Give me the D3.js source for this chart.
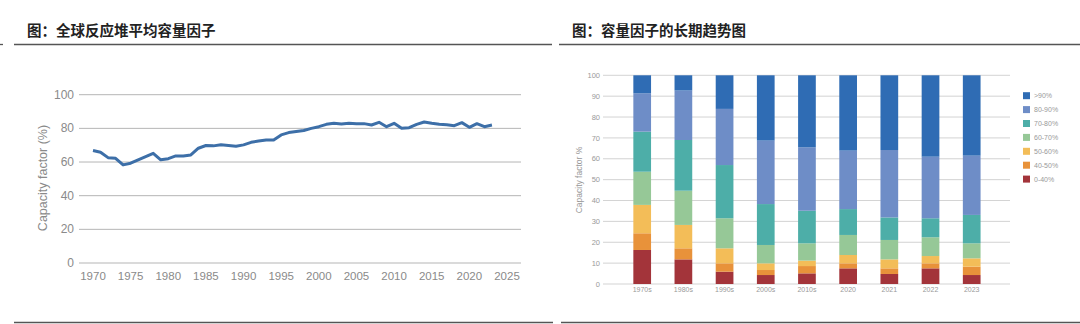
<!DOCTYPE html>
<html><head><meta charset="utf-8">
<script src="https://cdn.jsdelivr.net/npm/d3@7"></script>
<style>body{margin:0;background:#fff;}svg{display:block;}</style>
</head><body>
<svg id="c" width="1080" height="324"></svg>
<script>
// Left chart: global average reactor capacity factor
const years = d3.range(1970, 2024);
const capacityFactor = [66.8,65.8,62.6,62.2,58.3,59.3,61.3,63.2,65.2,61.3,
  62.0,63.6,63.6,64.2,68.2,69.8,69.6,70.2,69.8,69.4,
  70.2,71.7,72.5,73.1,73.1,76.1,77.5,78.1,78.7,80.0,
  81.0,82.4,83.0,82.6,83.0,82.8,82.8,82.0,83.6,81.0,
  83.0,80.0,80.4,82.4,83.8,83.0,82.4,82.2,81.6,83.4,
  80.6,82.8,81.0,82.0];
const leftYTicks = [0,20,40,60,80,100];
const leftXTicks = [1970,1975,1980,1985,1990,1995,2000,2005,2010,2015,2020,2025];

// Right chart: long-term capacity factor distribution (stacked %)
const periods = ["1970s","1980s","1990s","2000s","2010s","2020","2021","2022","2023"];
const bands = ["0-40%","40-50%","50-60%","60-70%","70-80%","80-90%",">90%"];
const band0_40  = [16.3,11.8,5.9,4.3,5.1,7.5,4.8,7.5,4.3];
const band40_50 = [8.0,5.3,4.0,2.4,3.5,2.4,2.7,2.4,4.0];
const band50_60 = [13.6,11.2,7.2,3.2,2.6,4.0,4.3,3.5,4.0];
const band60_70 = [15.9,16.4,14.4,8.8,8.3,9.6,9.3,9.0,7.2];
const band70_80 = [19.2,24.3,25.5,19.6,15.6,12.4,10.8,9.1,13.6];
const band80_90 = [18.4,23.7,26.9,30.4,30.4,28.0,32.3,29.5,28.4];
const band90up  = [8.6,7.3,16.1,31.3,34.5,36.1,35.8,39.0,38.5];
const rightYTicks = d3.range(0, 101, 10);
const bandColors = ["#a3343a","#e8923a","#f3bd58","#96c897","#4daea8","#6e8dc7","#2f6cb4"];

const svg = d3.select("#c");
const sans = "'Liberation Sans', Arial, sans-serif";
const cjk = "'Noto Sans CJK SC', sans-serif";

// Titles and rules
svg.append("text").attr("x", 27).attr("y", 36).attr("font-family", cjk).attr("font-weight", 700)
  .attr("font-size", 14.5).attr("fill", "#222").text("图：全球反应堆平均容量因子");
svg.append("text").attr("x", 572).attr("y", 36).attr("font-family", cjk).attr("font-weight", 700)
  .attr("font-size", 14.5).attr("fill", "#222").text("图：容量因子的长期趋势图");
const rules = [[0,3,44.5],[14,552,44.5],[559,1080,44.5],[14,553,322.5],[561,1080,322.5]];
svg.selectAll("line.rule").data(rules).enter().append("line").attr("class","rule")
  .attr("x1", d => d[0]).attr("x2", d => d[1]).attr("y1", d => d[2]).attr("y2", d => d[2])
  .attr("stroke", "#555").attr("stroke-width", 1.3);

// ---- Left line chart ----
const xL = d3.scaleLinear().domain([1970, 2025]).range([93, 507]);
const yL = d3.scaleLinear().domain([0, 100]).range([263, 94.7]);
const gL = svg.append("g");
gL.selectAll("line.grid").data(leftYTicks).enter().append("line")
  .attr("x1", 79).attr("x2", 521).attr("y1", d => yL(d)).attr("y2", d => yL(d))
  .attr("stroke", "#b5b5b5").attr("stroke-width", 1);
gL.selectAll("text.yt").data(leftYTicks).enter().append("text")
  .attr("x", 74).attr("y", d => yL(d) + 4).attr("text-anchor", "end")
  .attr("font-family", sans).attr("font-size", 12).attr("fill", "#8a8a8a").text(d => d);
gL.selectAll("text.xt").data(leftXTicks).enter().append("text")
  .attr("x", d => xL(d)).attr("y", 280).attr("text-anchor", "middle")
  .attr("font-family", sans).attr("font-size", 11.5).attr("fill", "#8a8a8a").text(d => d);
gL.append("text").attr("transform", "translate(47,178) rotate(-90)").attr("text-anchor", "middle")
  .attr("font-family", sans).attr("font-size", 12.5).attr("fill", "#8a8a8a").text("Capacity factor (%)");
gL.append("path").datum(years.map((y, i) => [y, capacityFactor[i]]))
  .attr("d", d3.line().x(d => xL(d[0])).y(d => yL(d[1])))
  .attr("fill", "none").attr("stroke", "#3d6fa8").attr("stroke-width", 3).attr("stroke-linejoin", "round");

// ---- Right stacked bar chart ----
const series = [band0_40, band40_50, band50_60, band60_70, band70_80, band80_90, band90up];
const rows = periods.map((p, i) => {
  const r = {period: p};
  bands.forEach((b, j) => r[b] = series[j][i]);
  return r;
});
const stack = d3.stack().keys(bands)(rows);
const xR = d3.scaleBand().domain(periods).range([621.6, 992.3]).paddingInner(0.57).paddingOuter(0.285);
const yR = d3.scaleLinear().domain([0, 100]).range([284, 75.3]);
const gR = svg.append("g");
gR.selectAll("line.grid").data(rightYTicks).enter().append("line")
  .attr("x1", 603).attr("x2", 1010).attr("y1", d => yR(d)).attr("y2", d => yR(d))
  .attr("stroke", "#c8c8c8").attr("stroke-width", 0.8);
gR.selectAll("text.yt").data(rightYTicks).enter().append("text")
  .attr("x", 600).attr("y", d => yR(d) + 2.6).attr("text-anchor", "end")
  .attr("font-family", sans).attr("font-size", 7.5).attr("fill", "#999").text(d => d);
gR.append("text").attr("transform", "translate(582,180) rotate(-90)").attr("text-anchor", "middle")
  .attr("font-family", sans).attr("font-size", 8.5).attr("fill", "#999").text("Capacity factor %");
stack.forEach((s, j) => {
  gR.selectAll(null).data(s).enter().append("rect")
    .attr("x", d => xR(d.data.period)).attr("width", xR.bandwidth())
    .attr("y", d => yR(d[1])).attr("height", d => yR(d[0]) - yR(d[1]))
    .attr("fill", bandColors[j]);
});
gR.selectAll("text.xt").data(periods).enter().append("text")
  .attr("x", d => xR(d) + xR.bandwidth() / 2).attr("y", 292).attr("text-anchor", "middle")
  .attr("font-family", sans).attr("font-size", 7).attr("fill", "#999").text(d => d);

// Legend (top = >90%)
const legendKeys = bands.slice().reverse();
const legendColors = bandColors.slice().reverse();
const lg = gR.selectAll("g.lg").data(legendKeys).enter().append("g")
  .attr("transform", (d, i) => `translate(1023,${95.7 + i * 13.9})`);
lg.append("rect").attr("x", 0).attr("y", -3.5).attr("width", 7).attr("height", 7)
  .attr("fill", (d, i) => legendColors[i]);
lg.append("text").attr("x", 11).attr("y", 2.5).attr("font-family", sans).attr("font-size", 7)
  .attr("fill", "#999").text(d => d);
</script>
</body></html>
